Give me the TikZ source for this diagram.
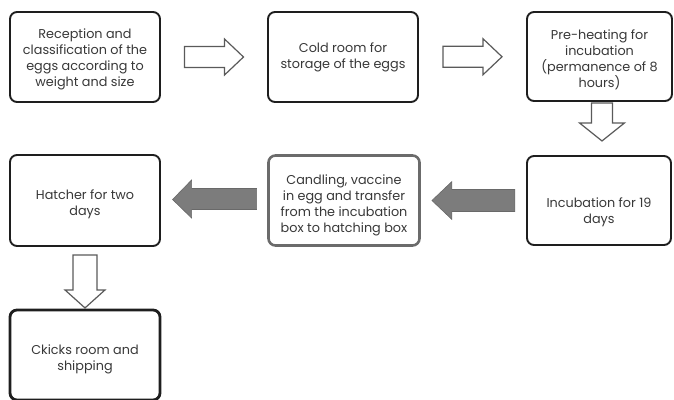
\documentclass[tikz,border=0pt]{standalone}
\usepackage{fontspec}
\setmainfont{Poppins}
\usetikzlibrary{calc}
\definecolor{txt}{HTML}{383838}
\definecolor{edge}{HTML}{1E1E1E}
\definecolor{arrline}{HTML}{5A5A5A}
\definecolor{arrfill}{HTML}{7C7C7C}
\tikzset{
  box/.style={draw=edge, line width=1.9pt, rounded corners=7pt, fill=white, inner sep=0pt},
  label/.style={align=center, text=txt, font=\fontsize{12.8}{16}\selectfont, inner sep=0pt},
  hollowarr/.style={draw=arrline, line width=1.2pt, fill=white, line join=miter},
  solidarr/.style={draw=arrfill!85!black, line width=0.6pt, fill=arrfill}
}
\begin{document}
\begin{tikzpicture}[x=1pt,y=-1pt]
\useasboundingbox (0,0) rectangle (674,399);
% boxes
\node[box, minimum width=150pt, minimum height=90pt] (b1) at (85,57) {};
\node[box, minimum width=150pt, minimum height=90pt] (b2) at (343,57) {};
\node[box, minimum width=145pt, minimum height=89pt] (b3) at (599.5,56.5) {};
\node[box, minimum width=144pt, minimum height=89pt] (b4) at (599,200.5) {};
\node[box, draw=arrline!90, line width=2.6pt, minimum width=151pt, minimum height=90pt] (b5) at (344,200.5) {};
\node[box, minimum width=150pt, minimum height=91pt] (b6) at (85,200.5) {};
\node[box, line width=2.8pt, minimum width=150pt, minimum height=90pt] (b7) at (85,355) {};
% texts
\node[label] (t1) at ($(b1.center)+(0,2)$)
  {Reception and\\classification of the\\eggs according to\\weight and size};
\node[label] (t2) at ($(b2.center)+(0,0.5)$)
  {Cold room for\\storage of the eggs};
\node[label] (t3) at ($(b3.center)+(0,3)$)
  {Pre-heating for\\incubation\\(permanence of 8\\hours)};
\node[label] (t4) at ($(b4.center)+(0,12)$)
  {Incubation for 19\\days};
\node[label] (t5) at ($(b5.center)+(0,4.5)$)
  {Candling, vaccine\\in egg and transfer\\from the incubation\\box to hatching box};
\node[label] (t6) at ($(b6.center)+(0,4)$)
  {Hatcher for two\\days};
\node[label] (t7) at ($(b7.center)+(0,4.5)$)
  {Ckicks room and\\shipping};
% hollow right arrows
\coordinate (a1) at ($(b1.east)!0.5!(b2.west)$);
\draw[hollowarr] ($(a1)+(-29.5,-10.5)$) -- ++(40,0) -- ++(0,-7.5) -- ++(19,18) -- ++(-19,18) -- ++(0,-7.5) -- ++(-40,0) -- cycle;
\coordinate (a2) at ($(b2.east)!0.5!(b3.west)$);
\draw[hollowarr] ($(a2)+(-29.5,-10.5)$) -- ++(40,0) -- ++(0,-7.5) -- ++(19,18) -- ++(-19,18) -- ++(0,-7.5) -- ++(-40,0) -- cycle;
% hollow down arrows
\coordinate (a3) at ($(b3.south)+(2.5,0)$);
\draw[hollowarr] ($(a3)+(-10.5,1)$) -- ++(0,20) -- ++(-12,0) -- ++(22.5,18) -- ++(22.5,-18) -- ++(-12,0) -- ++(0,-20) -- cycle;
\coordinate (a4) at (b6.south);
\draw[hollowarr] ($(a4)+(-12,8)$) -- ++(0,35) -- ++(-8,0) -- ++(20,18) -- ++(20,-18) -- ++(-8,0) -- ++(0,-35) -- cycle;
% solid left arrows
\coordinate (a5) at ($(b5.east)!0.5!(b4.west)$);
\draw[solidarr] ($(a5)+(-41.5,0)$) -- ++(20,-19) -- ++(0,8) -- ++(63,0) -- ++(0,22) -- ++(-63,0) -- ++(0,8) -- cycle;
\coordinate (a6) at ($(b6.east)!0.5!(b5.west)$);
\draw[solidarr] ($(a6)+(-41.5,-1)$) -- ++(19,-19.5) -- ++(0,8.5) -- ++(65,0) -- ++(0,21) -- ++(-65,0) -- ++(0,8.5) -- cycle;
\end{tikzpicture}
\end{document}
